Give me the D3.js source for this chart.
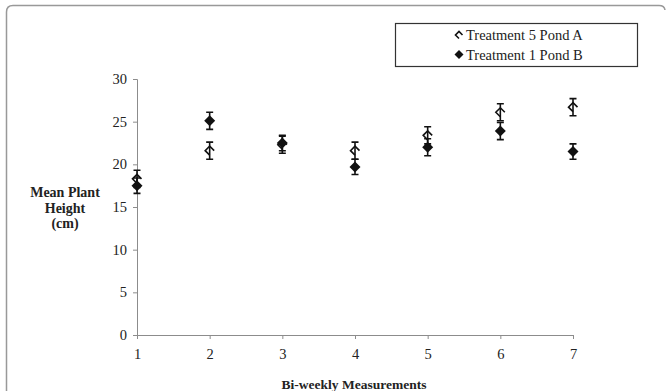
<!DOCTYPE html>
<html>
<head>
<meta charset="utf-8">
<script src="https://cdn.jsdelivr.net/npm/d3@7"></script>
<style>
	body { margin: 0; background: #fff; }
	svg text { font-family: "Liberation Serif", "Times New Roman", Times, serif; fill: #222; }
</style>
</head>
<body>
<div id="chart"></div>
<script>
// bi-weekly measurement numbers
const weeks = [1, 2, 3, 4, 5, 6, 7];
// Treatment 5 Pond A (open marker)
const pondA = [18.3, 21.6, 22.3, 21.6, 23.4, 26.1, 26.7];
const pondAErr = [1.0, 1.0, 1.0, 1.0, 1.0, 1.0, 1.0];
// Treatment 1 Pond B (filled marker)
const pondB = [17.5, 25.1, 22.5, 19.7, 22.0, 23.9, 21.5];
const pondBErr = [0.9, 1.0, 0.9, 0.9, 1.0, 1.0, 0.9];
const yTicks = [0, 5, 10, 15, 20, 25, 30];
const seriesNames = ['Treatment 5 Pond A', 'Treatment 1 Pond B'];

const serif = '"Liberation Serif", "Times New Roman", Times, serif';

let width = 667, height = 391;

let svg = d3.select('#chart').append('svg')
	.attr('width', width)
	.attr('height', height);

// outer frame, rounded top corners
svg.append('path')
	.attr('d', 'M6.5,391 L6.5,12 Q6.5,5.5 13,5.5 L659,5.5 Q664.5,5.5 665,10')
	.attr('fill', 'none')
	.attr('stroke', '#999')
	.attr('stroke-width', 1.5);

let x = d3.scaleLinear().domain([1, 7]).range([137, 573]);
let y = d3.scaleLinear().domain([0, 30]).range([335, 79]);

// y axis
let yAxis = svg.append('g')
	.attr('transform', 'translate(137,0)')
	.call(d3.axisLeft(y).tickValues(yTicks).tickFormat(d3.format('d')).tickSize(4).tickPadding(6));
// x axis
let xAxis = svg.append('g')
	.attr('transform', 'translate(0,335)')
	.call(d3.axisBottom(x).tickValues(weeks).tickFormat(d3.format('d')).tickSize(4).tickPadding(10));

[yAxis, xAxis].forEach(function(a) {
	a.attr('font-family', serif).attr('font-size', 14.5);
	a.select('.domain').attr('stroke', '#8c8c8c');
	a.selectAll('.tick line').attr('stroke', '#8c8c8c');
	a.selectAll('text').attr('fill', '#222');
});

// axis titles
let yTitle = svg.append('text')
	.attr('text-anchor', 'middle')
	.attr('font-family', serif)
	.attr('font-size', 14)
	.attr('font-weight', 'bold');
['Mean Plant', 'Height', '(cm)'].forEach(function(t, i) {
	yTitle.append('tspan').attr('x', 65).attr('y', 197 + i * 15.5).text(t);
});

svg.append('text')
	.attr('x', 354)
	.attr('y', 389)
	.attr('text-anchor', 'middle')
	.attr('font-family', serif)
	.attr('font-size', 13.5)
	.attr('font-weight', 'bold')
	.text('Bi-weekly Measurements');

// markers
let filledDiamond = 'M0,-5.5 L5.5,0 L0,5.5 L-5.5,0 Z';
let openDiamond = 'M4.5,0 L0,-4.5 L-4.5,0 L0,4.5';

function errorBars(vals, errs) {
	let g = svg.append('g');
	weeks.forEach(function(w, i) {
		let cx = x(w), top = y(vals[i] + errs[i]), bot = y(vals[i] - errs[i]);
		g.append('path')
			.attr('d', 'M' + cx + ',' + top + 'V' + bot +
				'M' + (cx - 3.5) + ',' + top + 'H' + (cx + 3.5) +
				'M' + (cx - 3.5) + ',' + bot + 'H' + (cx + 3.5))
			.attr('stroke', '#111')
			.attr('stroke-width', 1.6)
			.attr('fill', 'none');
	});
}

errorBars(pondA, pondAErr);
svg.append('g').selectAll('path')
	.data(pondA)
	.join('path')
	.attr('transform', function(d, i) { return 'translate(' + x(weeks[i]) + ',' + y(d) + ')'; })
	.attr('d', openDiamond)
	.attr('fill', 'none')
	.attr('stroke', '#111')
	.attr('stroke-width', 1.6);

errorBars(pondB, pondBErr);
svg.append('g').selectAll('path')
	.data(pondB)
	.join('path')
	.attr('transform', function(d, i) { return 'translate(' + x(weeks[i]) + ',' + y(d) + ')'; })
	.attr('d', filledDiamond)
	.attr('fill', '#111');

// legend
let legend = svg.append('g');
legend.append('rect')
	.attr('x', 395.5).attr('y', 23.5)
	.attr('width', 242).attr('height', 43)
	.attr('fill', '#fff')
	.attr('stroke', '#333')
	.attr('stroke-width', 1.2);

seriesNames.forEach(function(name, i) {
	let ly = 35 + i * 19.5;
	legend.append('path')
		.attr('transform', 'translate(459,' + ly + ')')
		.attr('d', i === 0 ? 'M3.5,0 L0,-3.5 L-3.5,0 L0,3.5' : 'M0,-4.5 L4.5,0 L0,4.5 L-4.5,0 Z')
		.attr('fill', i === 0 ? 'none' : '#111')
		.attr('stroke', '#111')
		.attr('stroke-width', i === 0 ? 1.6 : 0);
	legend.append('text')
		.attr('x', 466)
		.attr('y', ly + 5)
		.attr('font-family', serif)
		.attr('font-size', 14.5)
		.text(name);
});
</script>
</body>
</html>
